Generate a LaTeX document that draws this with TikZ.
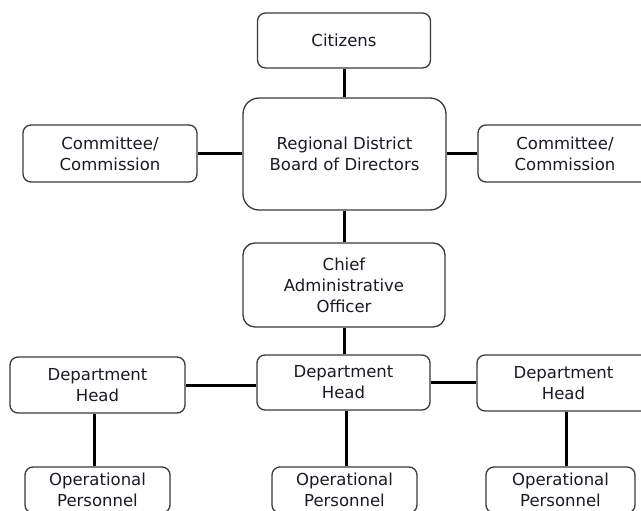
\documentclass[tikz,border=0pt]{standalone}
\usepackage{fontspec}
\setmainfont{DejaVu Sans}
\definecolor{boxgray}{HTML}{3A3A3A}
\definecolor{textdark}{HTML}{1A1A24}
\begin{document}
\begin{tikzpicture}[x=1pt,y=-1pt,
  box/.style={draw=boxgray, line width=1.3pt, rounded corners=8pt, align=center,
    font=\fontsize{16.5}{21}\selectfont, text=textdark, inner sep=0pt, fill=white},
  link/.style={line width=3pt, draw=black}]
\useasboundingbox (0,0) rectangle (641,511);
% top
\node[box, minimum width=173pt, minimum height=55pt] (cit) at (344,40.5) {Citizens};
\node[box, rounded corners=16pt, minimum width=203pt, minimum height=112pt] (board) at (344.5,154) {Regional District\\Board of Directors};
\node[box, minimum width=174pt, minimum height=57pt] (lcom) at (110,153.5) {Committee/\\Commission};
\node[box, minimum width=174pt, minimum height=57pt] (rcom) at (565,153.5) {Committee/\\Commission};
\node[box, rounded corners=12pt, minimum width=202pt, minimum height=84pt] (cao) at (344,285) {Chief\\Administrative\\Officer};
% department heads
\node[box, minimum width=175pt, minimum height=56pt] (ldh) at (97.5,385) {Department\\Head};
\node[box, minimum width=173pt, minimum height=55pt] (cdh) at (343.5,382.5) {Department\\Head};
\node[box, minimum width=173pt, minimum height=56pt] (rdh) at (563.5,383) {Department\\Head};
% operational personnel
\node[box, minimum width=145pt, minimum height=46pt] (lop) at (97.5,490) {Operational\\Personnel};
\node[box, minimum width=145pt, minimum height=46pt] (cop) at (344.5,490) {Operational\\Personnel};
\node[box, minimum width=149pt, minimum height=46pt] (rop) at (560.5,490) {Operational\\Personnel};
% connectors
\draw[link] (cit.south) -- (cit.south |- board.north);
\draw[link] (lcom.east) -- (lcom.east -| board.west);
\draw[link] (rcom.west -| board.east) -- (rcom.west);
\draw[link] (cao.north |- board.south) -- (cao.north);
\draw[link] (cao.south) -- (cao.south |- cdh.north);
\draw[link] (ldh.east) -- (ldh.east -| cdh.west);
\draw[link] (cdh.east) -- (cdh.east -| rdh.west);
\draw[link] ([xshift=-3pt]ldh.south) -- ([xshift=-3pt]ldh.south |- lop.north);
\draw[link] ([xshift=3pt]cdh.south) -- ([xshift=3pt]cdh.south |- cop.north);
\draw[link] ([xshift=3pt]rdh.south) -- ([xshift=3pt]rdh.south |- rop.north);
\end{tikzpicture}
\end{document}
